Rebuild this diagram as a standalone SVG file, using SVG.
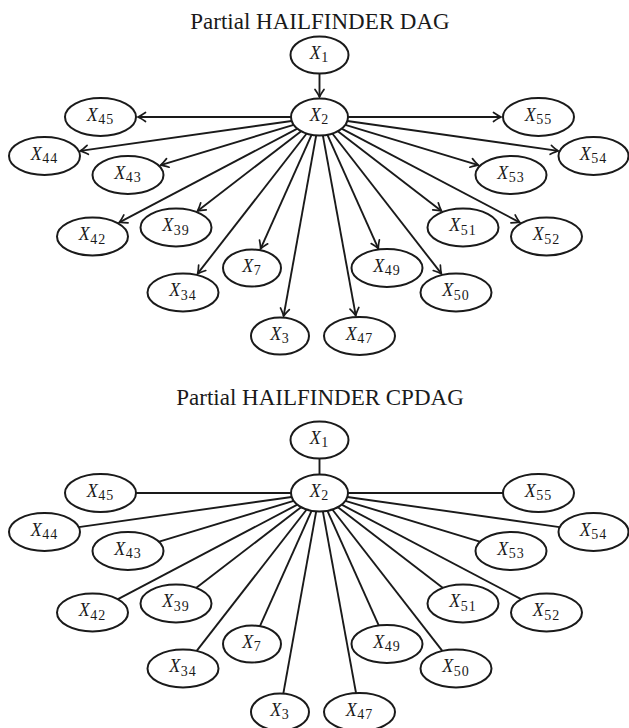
<svg xmlns="http://www.w3.org/2000/svg" width="629" height="728" viewBox="0 0 629 728">
<style>
.title{font-family:"Liberation Serif","Times New Roman",serif;font-size:23px;fill:#1a1a1a;text-anchor:middle}
.node ellipse{fill:#fff;stroke:#1a1a1a;stroke-width:2}
.node text{font-family:"Liberation Serif","Times New Roman",serif;font-size:18px;fill:#1a1a1a;text-anchor:middle}
.node .v{font-style:italic;letter-spacing:0.5px}
.node .s{font-size:14px;letter-spacing:1px}
.edges line{stroke:#1a1a1a;stroke-width:1.9;fill:none}
.dag line{marker-end:url(#arr)}
</style>
<defs>
<marker id="arr" markerUnits="userSpaceOnUse" viewBox="-9 -6 11 12" markerWidth="11" markerHeight="12" refX="0" refY="0" orient="auto" overflow="visible">
<path d="M-7.5,-4.5 Q-2.5,-1 0,0 Q-2.5,1 -7.5,4.5" fill="none" stroke="#1a1a1a" stroke-width="1.7" stroke-linecap="round"/>
</marker>
</defs>

<text class="title" x="320" y="28.5">Partial HAILFINDER DAG</text>
<text class="title" x="320" y="405">Partial HAILFINDER CPDAG</text>

<!-- DAG connectors -->
<g id="dag-edges" class="edges dag">
<line x1="319.5" y1="73.5" x2="319.5" y2="97"/>
<line x1="291" y1="117" x2="138" y2="117"/>
<line x1="348" y1="117" x2="501" y2="117"/>
<line x1="291.65" y1="120.94" x2="80.3" y2="150.9"/>
<line x1="347.35" y1="120.94" x2="558.2" y2="150.9"/>
<line x1="293.67" y1="124.82" x2="160.66" y2="165.1"/>
<line x1="345.33" y1="124.82" x2="478.34" y2="165.1"/>
<line x1="297.37" y1="128.65" x2="119.32" y2="222.38"/>
<line x1="341.63" y1="128.65" x2="519.68" y2="222.38"/>
<line x1="301.13" y1="131.14" x2="197.54" y2="210.92"/>
<line x1="337.87" y1="131.14" x2="441.46" y2="210.92"/>
<line x1="306.66" y1="133.51" x2="197.6" y2="273.7"/>
<line x1="332.34" y1="133.51" x2="441.4" y2="273.7"/>
<line x1="311.56" y1="134.77" x2="260.56" y2="248.84"/>
<line x1="327.44" y1="134.77" x2="378.33" y2="248.6"/>
<line x1="316.19" y1="135.37" x2="283.58" y2="316.14"/>
<line x1="322.85" y1="135.37" x2="355.77" y2="315.6"/>
</g>

<!-- CPDAG connectors -->
<g id="cpdag-edges" class="edges" transform="translate(0,376)">
<line x1="319.5" y1="82.5" x2="319.5" y2="98.5"/>
<line x1="291" y1="117" x2="136" y2="117"/>
<line x1="348" y1="117" x2="503" y2="117"/>
<line x1="291.65" y1="120.94" x2="78.77" y2="151.08"/>
<line x1="347.35" y1="120.94" x2="559.5" y2="151.08"/>
<line x1="293.67" y1="124.82" x2="159.22" y2="165.54"/>
<line x1="345.33" y1="124.82" x2="479.78" y2="165.54"/>
<line x1="297.37" y1="128.65" x2="117.99" y2="223.08"/>
<line x1="341.63" y1="128.65" x2="521.01" y2="223.08"/>
<line x1="301.13" y1="131.14" x2="196.35" y2="211.83"/>
<line x1="337.87" y1="131.14" x2="442.65" y2="211.83"/>
<line x1="306.66" y1="133.51" x2="196.68" y2="274.92"/>
<line x1="332.34" y1="133.51" x2="442.32" y2="274.92"/>
<line x1="311.56" y1="134.77" x2="259.95" y2="250.21"/>
<line x1="327.44" y1="134.77" x2="378.94" y2="249.97"/>
<line x1="316.19" y1="135.37" x2="283.31" y2="317.62"/>
<line x1="322.85" y1="135.37" x2="356.04" y2="317.08"/>
</g>

<!-- DAG nodes -->
<g id="dag-nodes">
<g id="d-X1" class="node"><ellipse cx="319.5" cy="55" rx="29" ry="18.5"/><text x="319.5" y="58.5"><tspan class="v">X</tspan><tspan class="s" dy="3.5">1</tspan></text></g>
<g id="d-X2" class="node"><ellipse cx="319.5" cy="117" rx="28.5" ry="18.5"/><text x="319.5" y="120.5"><tspan class="v">X</tspan><tspan class="s" dy="3.5">2</tspan></text></g>
<g id="d-X45" class="node"><ellipse cx="100.5" cy="117" rx="35.5" ry="19"/><text x="100.5" y="120.5"><tspan class="v">X</tspan><tspan class="s" dy="3.5">45</tspan></text></g>
<g id="d-X55" class="node"><ellipse cx="538.5" cy="117" rx="35.5" ry="19"/><text x="538.5" y="120.5"><tspan class="v">X</tspan><tspan class="s" dy="3.5">55</tspan></text></g>
<g id="d-X44" class="node"><ellipse cx="44.5" cy="156" rx="35.5" ry="19"/><text x="44.5" y="159.5"><tspan class="v">X</tspan><tspan class="s" dy="3.5">44</tspan></text></g>
<g id="d-X54" class="node"><ellipse cx="593.5" cy="156" rx="35" ry="19"/><text x="593.5" y="159.5"><tspan class="v">X</tspan><tspan class="s" dy="3.5">54</tspan></text></g>
<g id="d-X43" class="node"><ellipse cx="128" cy="175" rx="35.5" ry="19"/><text x="128" y="178.5"><tspan class="v">X</tspan><tspan class="s" dy="3.5">43</tspan></text></g>
<g id="d-X53" class="node"><ellipse cx="511" cy="175" rx="35.5" ry="19"/><text x="511" y="178.5"><tspan class="v">X</tspan><tspan class="s" dy="3.5">53</tspan></text></g>
<g id="d-X42" class="node"><ellipse cx="92.5" cy="236.5" rx="35.5" ry="19"/><text x="92.5" y="240"><tspan class="v">X</tspan><tspan class="s" dy="3.5">42</tspan></text></g>
<g id="d-X52" class="node"><ellipse cx="546.5" cy="236.5" rx="35.5" ry="19"/><text x="546.5" y="240"><tspan class="v">X</tspan><tspan class="s" dy="3.5">52</tspan></text></g>
<g id="d-X39" class="node"><ellipse cx="176" cy="227.5" rx="35.5" ry="19"/><text x="176" y="231"><tspan class="v">X</tspan><tspan class="s" dy="3.5">39</tspan></text></g>
<g id="d-X51" class="node"><ellipse cx="463" cy="227.5" rx="35.5" ry="19"/><text x="463" y="231"><tspan class="v">X</tspan><tspan class="s" dy="3.5">51</tspan></text></g>
<g id="d-X34" class="node"><ellipse cx="183" cy="292.5" rx="35.5" ry="19"/><text x="183" y="296"><tspan class="v">X</tspan><tspan class="s" dy="3.5">34</tspan></text></g>
<g id="d-X50" class="node"><ellipse cx="456" cy="292.5" rx="35.5" ry="19"/><text x="456" y="296"><tspan class="v">X</tspan><tspan class="s" dy="3.5">50</tspan></text></g>
<g id="d-X7" class="node"><ellipse cx="252" cy="268" rx="29" ry="18.5"/><text x="252" y="271.5"><tspan class="v">X</tspan><tspan class="s" dy="3.5">7</tspan></text></g>
<g id="d-X49" class="node"><ellipse cx="387" cy="268" rx="35.5" ry="19"/><text x="387" y="271.5"><tspan class="v">X</tspan><tspan class="s" dy="3.5">49</tspan></text></g>
<g id="d-X3" class="node"><ellipse cx="280" cy="336" rx="29" ry="18.5"/><text x="280" y="339.5"><tspan class="v">X</tspan><tspan class="s" dy="3.5">3</tspan></text></g>
<g id="d-X47" class="node"><ellipse cx="359.5" cy="336" rx="35.5" ry="19"/><text x="359.5" y="339.5"><tspan class="v">X</tspan><tspan class="s" dy="3.5">47</tspan></text></g>
</g>

<!-- CPDAG nodes -->
<g id="cpdag-nodes" transform="translate(0,376)">
<g id="c-X1" class="node"><ellipse cx="319.5" cy="64" rx="29" ry="18.5"/><text x="319.5" y="67.5"><tspan class="v">X</tspan><tspan class="s" dy="3.5">1</tspan></text></g>
<g id="c-X2" class="node"><ellipse cx="319.5" cy="117" rx="28.5" ry="18.5"/><text x="319.5" y="120.5"><tspan class="v">X</tspan><tspan class="s" dy="3.5">2</tspan></text></g>
<g id="c-X45" class="node"><ellipse cx="100.5" cy="117" rx="35.5" ry="19"/><text x="100.5" y="120.5"><tspan class="v">X</tspan><tspan class="s" dy="3.5">45</tspan></text></g>
<g id="c-X55" class="node"><ellipse cx="538.5" cy="117" rx="35.5" ry="19"/><text x="538.5" y="120.5"><tspan class="v">X</tspan><tspan class="s" dy="3.5">55</tspan></text></g>
<g id="c-X44" class="node"><ellipse cx="44.5" cy="156" rx="35.5" ry="19"/><text x="44.5" y="159.5"><tspan class="v">X</tspan><tspan class="s" dy="3.5">44</tspan></text></g>
<g id="c-X54" class="node"><ellipse cx="593.5" cy="156" rx="35" ry="19"/><text x="593.5" y="159.5"><tspan class="v">X</tspan><tspan class="s" dy="3.5">54</tspan></text></g>
<g id="c-X43" class="node"><ellipse cx="128" cy="175" rx="35.5" ry="19"/><text x="128" y="178.5"><tspan class="v">X</tspan><tspan class="s" dy="3.5">43</tspan></text></g>
<g id="c-X53" class="node"><ellipse cx="511" cy="175" rx="35.5" ry="19"/><text x="511" y="178.5"><tspan class="v">X</tspan><tspan class="s" dy="3.5">53</tspan></text></g>
<g id="c-X42" class="node"><ellipse cx="92.5" cy="236.5" rx="35.5" ry="19"/><text x="92.5" y="240"><tspan class="v">X</tspan><tspan class="s" dy="3.5">42</tspan></text></g>
<g id="c-X52" class="node"><ellipse cx="546.5" cy="236.5" rx="35.5" ry="19"/><text x="546.5" y="240"><tspan class="v">X</tspan><tspan class="s" dy="3.5">52</tspan></text></g>
<g id="c-X39" class="node"><ellipse cx="176" cy="227.5" rx="35.5" ry="19"/><text x="176" y="231"><tspan class="v">X</tspan><tspan class="s" dy="3.5">39</tspan></text></g>
<g id="c-X51" class="node"><ellipse cx="463" cy="227.5" rx="35.5" ry="19"/><text x="463" y="231"><tspan class="v">X</tspan><tspan class="s" dy="3.5">51</tspan></text></g>
<g id="c-X34" class="node"><ellipse cx="183" cy="292.5" rx="35.5" ry="19"/><text x="183" y="296"><tspan class="v">X</tspan><tspan class="s" dy="3.5">34</tspan></text></g>
<g id="c-X50" class="node"><ellipse cx="456" cy="292.5" rx="35.5" ry="19"/><text x="456" y="296"><tspan class="v">X</tspan><tspan class="s" dy="3.5">50</tspan></text></g>
<g id="c-X7" class="node"><ellipse cx="252" cy="268" rx="29" ry="18.5"/><text x="252" y="271.5"><tspan class="v">X</tspan><tspan class="s" dy="3.5">7</tspan></text></g>
<g id="c-X49" class="node"><ellipse cx="387" cy="268" rx="35.5" ry="19"/><text x="387" y="271.5"><tspan class="v">X</tspan><tspan class="s" dy="3.5">49</tspan></text></g>
<g id="c-X3" class="node"><ellipse cx="280" cy="336" rx="29" ry="18.5"/><text x="280" y="339.5"><tspan class="v">X</tspan><tspan class="s" dy="3.5">3</tspan></text></g>
<g id="c-X47" class="node"><ellipse cx="359.5" cy="336" rx="35.5" ry="19"/><text x="359.5" y="339.5"><tspan class="v">X</tspan><tspan class="s" dy="3.5">47</tspan></text></g>
</g>
</svg>
